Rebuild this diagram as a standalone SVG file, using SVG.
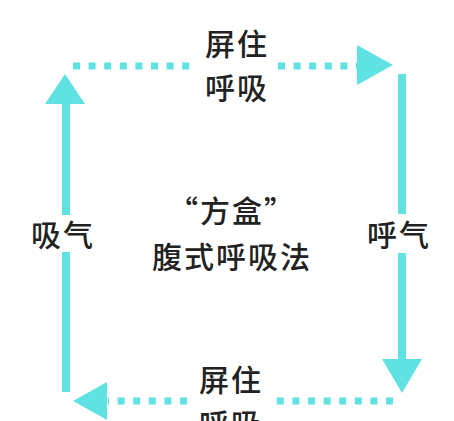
<svg xmlns="http://www.w3.org/2000/svg" width="454" height="421" viewBox="0 0 454 421">
<style>
.ln{stroke:#60e2e2;stroke-width:8;fill:none}
.dot{stroke:#60e2e2;stroke-width:7;fill:none;stroke-dasharray:7 8.6}
.hd{fill:#60e2e2}
text{font-family:"Noto Sans CJK SC","Noto Sans",sans-serif;fill:#222;text-anchor:middle;font-weight:500}
.lb{font-size:30px;letter-spacing:2px}
</style>
<rect width="454" height="421" fill="#ffffff"/>
<g id="connectors">
<path class="dot" d="M73 66H193"/>
<path class="dot" d="M278 66H358"/>
<polygon class="hd" points="357,45 393,65 357,85"/>
<path class="ln" d="M402 74V214M402 253V362"/>
<polygon class="hd" points="382,359 422,359 402,393"/>
<path class="dot" d="M393 401H274"/>
<path class="dot" d="M187 401H108"/>
<polygon class="hd" points="107,382 73,401 107,420"/>
<path class="ln" d="M66 392V252M66 215V102"/>
<polygon class="hd" points="45,104 85,104 65,74"/>
</g>
<g id="top-label"><text class="lb" x="237" y="55">屏住</text><text class="lb" x="237" y="99">呼吸</text></g>
<g id="bottom-label"><text class="lb" x="231" y="391">屏住</text><text class="lb" x="231" y="435">呼吸</text></g>
<g id="left-label"><text class="lb" x="63" y="246">吸气</text></g>
<g id="right-label"><text class="lb" x="399" y="246">呼气</text></g>
<g id="center"><text class="lb" x="232" y="222">“方盒”</text><text class="lb" x="232" y="268">腹式呼吸法</text></g>
</svg>
